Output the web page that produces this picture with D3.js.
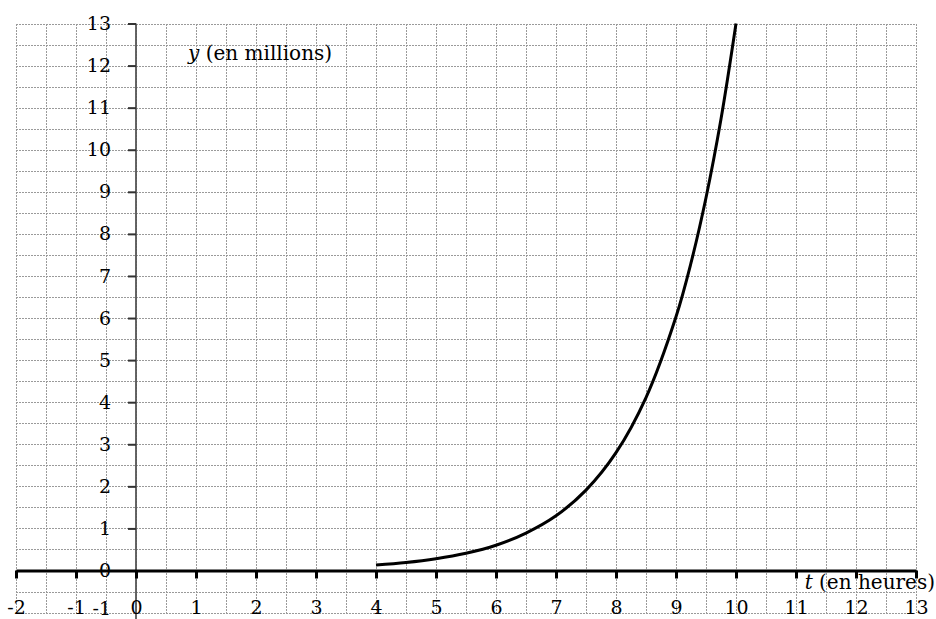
<!DOCTYPE html>
<html>
<head>
<meta charset="utf-8">
<script src="https://cdn.jsdelivr.net/npm/d3@7"></script>
<style>
  html, body { margin: 0; padding: 0; background: #fff; }
  svg { display: block; }
</style>
</head>
<body>
<svg id="chart" width="936" height="619"></svg>
<script>
// ---- data ----
const tValues = [4, 4.5, 5, 5.5, 6, 6.5, 7, 7.5, 8, 8.5, 9, 9.25, 9.5, 9.75, 10];
const yValues = [0.13, 0.19, 0.28, 0.41, 0.60, 0.89, 1.30, 1.91, 2.80, 4.11, 6.03, 7.31, 8.86, 10.73, 13.0];
const xTickValues = [-2, -1, 0, 1, 2, 3, 4, 5, 6, 7, 8, 9, 10, 11, 12, 13];
const xTickLabels = ["-2", "-1", "0", "1", "2", "3", "4", "5", "6", "7", "8", "9", "10", "11", "12", "13"];
const yTickValues = [-1, 0, 1, 2, 3, 4, 5, 6, 7, 8, 9, 10, 11, 12, 13];
const yTickLabels = ["-1", "0", "1", "2", "3", "4", "5", "6", "7", "8", "9", "10", "11", "12", "13"];
const xGridValues = d3.range(-2, 13.001, 0.5);
const yGridValues = d3.range(-1, 13.001, 0.5);
const xAxisTitle = "(en heures)";
const xAxisVar = "t";
const yAxisTitle = "(en millions)";
const yAxisVar = "y";

const FONT = "DejaVu Serif";

// ---- scales ----
const x = d3.scaleLinear().domain([-2, 13]).range([16, 916]);
const y = d3.scaleLinear().domain([0, 13]).range([570.5, 23.5]);

const svg = d3.select("#chart");

// grid
const grid = svg.append("g").attr("stroke", "#9a9a9a").attr("stroke-width", 1)
  .attr("stroke-dasharray", "2,1").attr("shape-rendering", "crispEdges");
grid.selectAll("line.v").data(xGridValues).join("line").attr("class", "v")
  .attr("x1", d => Math.round(x(d)) + 0.5).attr("x2", d => Math.round(x(d)) + 0.5)
  .attr("y1", y(13)).attr("y2", y(-1));
grid.selectAll("line.h").data(yGridValues).join("line").attr("class", "h")
  .attr("y1", d => Math.round(y(d)) + 0.5).attr("y2", d => Math.round(y(d)) + 0.5)
  .attr("x1", x(-2)).attr("x2", x(13));

// y axis line (vertical, extends to the bottom)
svg.append("line")
  .attr("x1", x(0)).attr("x2", x(0))
  .attr("y1", y(13)).attr("y2", 619)
  .attr("stroke", "#555").attr("stroke-width", 1.8);

// y axis ticks and labels
const yAxis = d3.axisLeft(y)
  .tickValues(yTickValues)
  .tickFormat((d, i) => yTickLabels[i])
  .tickSize(8).tickSizeOuter(0).tickPadding(17);
const gy = svg.append("g").attr("transform", `translate(${x(0)},0)`).call(yAxis)
  .attr("font-family", FONT).attr("font-size", 19);
gy.select(".domain").remove();
gy.selectAll(".tick line").attr("stroke", "#333").attr("stroke-width", 2)
  .filter(d => d <= 0).remove();
gy.selectAll(".tick text").attr("fill", "#000")
  .filter(d => d === -1).attr("dy", "0.1em");

// x axis
const xAxis = d3.axisBottom(x)
  .tickValues(xTickValues)
  .tickFormat((d, i) => xTickLabels[i])
  .tickSize(8).tickSizeOuter(0).tickPadding(22);
const gx = svg.append("g").attr("transform", `translate(0,${y(0)})`).call(xAxis)
  .attr("font-family", FONT).attr("font-size", 19);
gx.select(".domain").attr("stroke", "#000").attr("stroke-width", 3);
gx.selectAll(".tick line").attr("stroke", "#000").attr("stroke-width", 3);
gx.selectAll(".tick text").attr("fill", "#000");

// curve
const line = d3.line()
  .x((d, i) => x(tValues[i]))
  .y(d => y(d))
  .curve(d3.curveCatmullRom.alpha(0.5));
svg.append("path")
  .datum(yValues)
  .attr("d", line)
  .attr("fill", "none")
  .attr("stroke", "#000")
  .attr("stroke-width", 3);

// axis titles
const tx = svg.append("text").attr("x", 935).attr("y", 589).attr("text-anchor", "end")
  .attr("font-family", FONT).attr("font-size", 20).attr("fill", "#000");
tx.append("tspan").attr("font-style", "italic").text(xAxisVar);
tx.append("tspan").text(" " + xAxisTitle);

const ty = svg.append("text").attr("x", 188).attr("y", 60)
  .attr("font-family", FONT).attr("font-size", 20).attr("fill", "#000");
ty.append("tspan").attr("font-style", "italic").text(yAxisVar);
ty.append("tspan").text(" " + yAxisTitle);
</script>
</body>
</html>
